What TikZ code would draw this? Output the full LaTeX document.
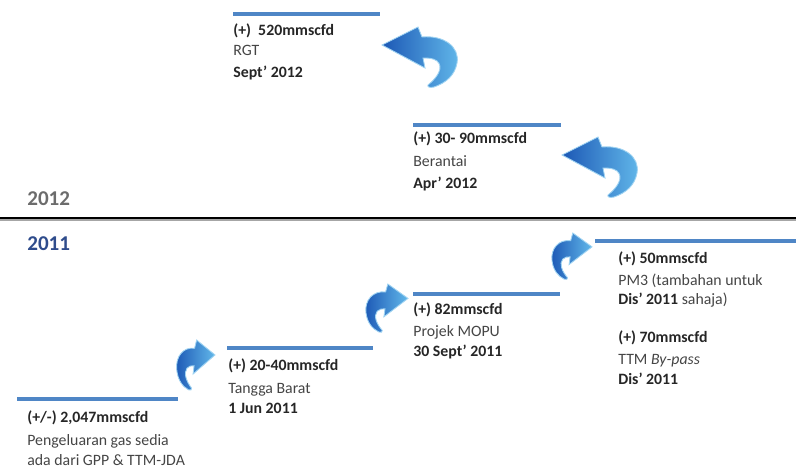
\documentclass[tikz,border=0pt]{standalone}
\usepackage{fontspec}
\setmainfont{Carlito}
\usetikzlibrary{positioning}
\definecolor{barblue}{HTML}{4F86C6}
\definecolor{swoopdark}{HTML}{1C58B5}
\definecolor{swooplight}{HTML}{62B8EA}
\definecolor{yearblue}{HTML}{2F4C8C}
\definecolor{inkdark}{HTML}{262626}
\definecolor{inkgray}{HTML}{454545}
\tikzset{bar/.style={barblue,line width=2.8pt},
  amount/.style={anchor=base west,inner sep=0pt,font=\fontsize{9}{11}\selectfont\bfseries,text=inkdark},
  note/.style={anchor=base west,inner sep=0pt,font=\fontsize{9}{11}\selectfont,text=inkgray},
  year/.style={anchor=base west,inner sep=0pt,font=\fontsize{12}{14}\selectfont\bfseries},
  swoop/.pic={
    \path[draw=swooplight!60!white,line width=0.5pt,left color=swoopdark,right color=swooplight]
      (0,18) -- (36,0) -- (40,10) .. controls (62,8) and (78,20) .. (75,36)
      .. controls (73,48) and (64,56) .. (52,60) .. controls (48,61) and (45,60) .. (46,58)
      .. controls (56,50) and (62,40) .. (55,34) .. controls (51,31) and (46,31) .. (41,31)
      -- (43,41) -- cycle;}}
\begin{document}
\begin{tikzpicture}[x=0.02cm,y=-0.02cm]
\useasboundingbox (0,0) rectangle (796,470);
% year divider
\draw[black,line width=1.3pt] (0,218) -- (796,218);
\draw[gray!70,line width=0.7pt] (0,220) -- (796,220);
\node[year,text=gray!85!black] (y2012) at (27,205) {2012};
\node[year,text=yearblue] (y2011) at (27,250) {2011};
% steps
\foreach \xa/\xb/\y in {17/178/399,227/373/348,413/560/294,595/796/241,233/380/14,413/561/125}
  \draw[bar] (\xa,\y) -- (\xb,\y);
\foreach \n/\x/\y/\s/\t in {
   amtA/27/422/amount/{(+/-) 2,047mmscfd},
   siteA/27/445/note/{Pengeluaran gas sedia},
   siteAb/27/465/note/{ada dari GPP \& TTM-JDA},
   amtB/228/370/amount/{(+) 20-40mmscfd},
   siteB/228/393/note/{Tangga Barat},
   dateB/228/413/amount/{1 Jun 2011},
   amtC/413/314/amount/{(+) 82mmscfd},
   siteC/413/337/note/{Projek MOPU},
   dateC/413/357/amount/{30 Sept' 2011},
   amtD/618/263/amount/{(+) 50mmscfd},
   siteD/618/285/note/{PM3 (tambahan untuk},
   dateD/618/304/note/{\textbf{\color{inkdark}Dis' 2011} sahaja)},
   amtDb/618/342/amount/{(+) 70mmscfd},
   siteDb/618/364/note/{TTM \textit{By-pass}},
   dateDb/618/384/amount/{Dis' 2011},
   amtE/233/35/amount/{(+)\ \ 520mmscfd},
   siteE/233/55/note/{RGT},
   dateE/233/77/amount/{Sept' 2012},
   amtF/413/143/amount/{(+) 30- 90mmscfd},
   siteF/413/166/note/{Berantai},
   dateF/413/188/amount/{Apr' 2012}}
  \node[\s] (\n) at (\x,\y) {\t};
% curved arrows
\pic[xscale=-0.51,yscale=0.83] at (215,340) {swoop};
\pic[xscale=-0.56,yscale=0.8] at (408,284) {swoop};
\pic[xscale=-0.533,yscale=0.77] at (592,233) {swoop};
\pic at (382,27) {swoop};
\pic at (562,137) {swoop};
\end{tikzpicture}
\end{document}
